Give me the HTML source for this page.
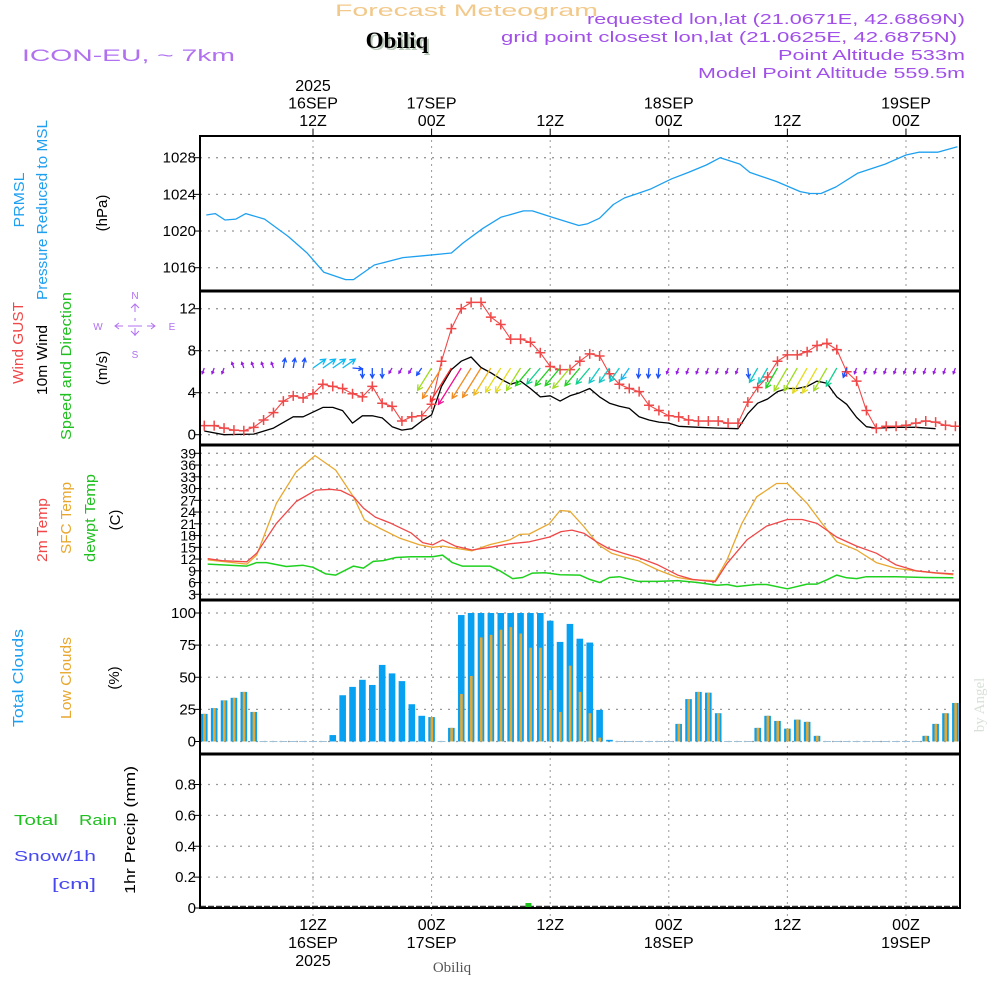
<!DOCTYPE html>
<html><head><meta charset="utf-8"><style>
html,body{margin:0;padding:0;background:#fff;}
svg{display:block;font-family:"Liberation Sans",sans-serif;}
</style></head><body>
<svg id="chart" width="1000" height="1000" viewBox="0 0 1000 1000" xmlns="http://www.w3.org/2000/svg">
<rect width="1000" height="1000" fill="#fff"/>
<text x="335" y="16" font-size="17" fill="#f2c98a" textLength="263" lengthAdjust="spacingAndGlyphs">Forecast Meteogram</text>
<text x="399" y="50" font-size="23" font-weight="bold" font-family="Liberation Serif,serif" fill="#b8c8b8" text-anchor="middle">Obiliq</text>
<text x="397" y="48" font-size="23" font-weight="bold" font-family="Liberation Serif,serif" fill="#000" text-anchor="middle">Obiliq</text>
<text x="22" y="61" font-size="17" fill="#b070f0" textLength="213" lengthAdjust="spacingAndGlyphs">ICON-EU, ~ 7km</text>
<g font-size="15" fill="#a050e8">
<text x="587" y="24" textLength="378" lengthAdjust="spacingAndGlyphs">requested lon,lat (21.0671E, 42.6869N)</text>
<text x="501" y="42" textLength="456" lengthAdjust="spacingAndGlyphs">grid point closest lon,lat (21.0625E, 42.6875N)</text>
<text x="778" y="60" textLength="187" lengthAdjust="spacingAndGlyphs">Point Altitude 533m</text>
<text x="698" y="78" textLength="267" lengthAdjust="spacingAndGlyphs">Model Point Altitude 559.5m</text>
</g>
<g id="grid"></g>
<g id="marks"></g>
<g id="frames"></g>
<g id="labels" font-size="15"></g>
<text transform="translate(984,705) rotate(-90)" font-size="15" font-family="Liberation Serif,serif" fill="#d8e0d8" text-anchor="middle">by Angel</text>
<text x="452" y="972" font-size="15" font-family="Liberation Serif,serif" fill="#555" text-anchor="middle">Obiliq</text>
</svg>
<script>
// ===== data (t = hours since 00Z 16SEP) =====
const timeTickHours=[12,24,36,48,60,72];
const topTickLabels=[["2025","16SEP","12Z"],["17SEP","00Z"],["12Z"],["18SEP","00Z"],["12Z"],["19SEP","00Z"]];
const bottomTickLabels=[["12Z","16SEP","2025"],["00Z","17SEP"],["12Z"],["00Z","18SEP"],["12Z"],["00Z","19SEP"]];
const presT=[1.2,2.1,3.1,4.2,5.2,7.1,9.5,11.4,13.1,15.3,16.1,18.2,21.1,23.1,26,27.2,29.2,31,33.3,34.2,36.2,38.9,39.8,41,42.4,43.5,46.1,48.3,50,51.8,53.2,55.2,56.2,58.9,61.3,62.3,63.4,64.9,67.1,69.9,72,73.3,75.2,77.2];
const presV=[1021.75,1021.9,1021.2,1021.3,1021.9,1021.3,1019.4,1017.6,1015.5,1014.7,1014.7,1016.3,1017.1,1017.3,1017.6,1018.7,1020.3,1021.5,1022.2,1022.2,1021.5,1020.6,1020.8,1021.4,1022.9,1023.6,1024.55,1025.7,1026.4,1027.2,1028,1027.3,1026.4,1025.4,1024.3,1024.1,1024.1,1024.8,1026.3,1027.3,1028.3,1028.6,1028.6,1029.2];
const presTicks=[1016,1020,1024,1028];
const gustV=[0.86,0.86,0.63,0.44,0.38,0.7,1.4,2.1,3.2,3.7,3.5,3.9,4.8,4.6,4.4,3.9,3.6,4.6,3.0,2.7,1.3,1.7,1.8,2.9,7.0,10.1,12.0,12.6,12.6,11.2,10.5,9.1,9.1,8.8,7.8,6.5,6.2,6.2,7.0,7.7,7.5,5.8,4.8,4.4,4.1,2.8,2.3,1.8,1.7,1.4,1.3,1.3,1.3,1.1,1.1,3.1,4.5,5.5,7.0,7.6,7.6,7.9,8.5,8.7,8.1,6.0,5.1,2.3,0.6,0.8,0.8,0.9,1.1,1.3,1.2,0.9,0.8];
const windT=[1,3,6,8,10,11,13,14,15,16,17,18,19,20,21,22,23,24,25,26,27,28,29,30,31,32,33,34,35,36,37,38,39,40,41,42,43,44,45,46,47,48,49,51,53,55,56,57,58,59,60,61,62,63,64,65,66,67,68,69,71,73,75];
const windV=[0.35,0,0.06,0.63,1.7,1.7,2.6,2.6,2.3,1.1,1.8,1.8,1.6,0.76,0.44,0.57,1.3,1.9,4.6,6.2,7.0,7.4,6.4,5.9,5.3,4.8,5.1,4.4,3.6,3.7,3.2,3.7,4.0,4.4,3.6,3.0,2.7,2.5,1.7,1.4,1.2,1.1,0.8,0.7,0.63,0.57,2.0,3.0,3.4,4.1,4.4,4.4,4.6,5.1,4.9,3.6,2.9,1.65,0.76,0.63,0.7,0.7,0.57];
const barbSpd=[0.8,0.8,0.8,0.8,0.8,0.8,0.8,0.8,1.8,1.8,1.8,2.8,2.8,2.8,2.8,1.8,1.8,1.8,1.8,0.8,0.8,0.8,1.6,4.8,6.5,7.2,7.8,6.5,6.3,5.8,5.2,5.2,4.8,4.2,3.8,4.2,4.2,4.8,4.2,3.8,3.3,3.2,3.0,2.6,1.8,1.8,1.8,0.8,0.8,0.8,0.8,0.8,0.8,0.8,0.8,1.8,3.0,3.2,4.2,4.8,4.8,5.2,5.2,4.8,3.8,1.8,0.8,0.8,0.8,0.8,0.8,0.8,0.8,0.8,0.8,0.8,0.8];
const barbDir=[200,200,200,340,340,340,340,340,10,10,10,55,55,55,55,95,180,180,180,210,210,210,215,212,212,212,212,212,212,212,212,212,212,220,220,220,220,220,220,220,215,215,215,215,185,185,185,200,200,200,200,200,200,200,200,175,210,210,210,210,210,210,210,210,210,200,200,200,200,200,200,200,200,200,200,200,200];
const windTicks=[0,4,8,12];
const t2mT=[1.35,2.8,5.3,6.3,8.3,10.3,12.3,13.8,14.8,16.1,17.1,18.3,19.9,21.9,23.1,24.1,25.1,26.4,28.1,29.9,31.9,33.9,35.9,37.1,38.2,39.4,40.7,41.9,43.4,44.9,46.9,48.9,50.4,52.7,53.9,55.9,57.9,60,61.5,63,65,67,69,71,73,75,76.8];
const t2mV=[12.1,11.6,11.3,13.5,21.1,26.7,29.6,29.8,29.5,27.9,25,22.7,21.1,18.7,16.2,15.6,16.9,15.3,14.3,15.0,15.9,16.4,17.6,19.0,19.4,18.6,16.4,14.7,13.5,12.4,10.5,7.9,6.8,6.2,10.9,16.9,20.4,22.1,22.1,21.1,17.6,15.3,13.5,10.5,9.0,8.5,8.2];
const sfcT=[1.35,5.3,6.3,8.3,10.3,12.2,14.3,16.1,17.2,18.8,20.8,22.8,24.1,25.1,28.1,29.9,31.9,32.9,33.9,35.9,37.0,38,39.4,40.9,42.2,43.4,44.9,46.9,48.9,50.4,52.7,53.9,55.4,56.9,58.9,60,62,63.5,65,67,69,71,73,75,76.8];
const sfcV=[11.8,10.7,13,26.2,34.3,38.4,34.7,27.9,22,19.8,17.3,15.6,15,15.3,14.1,15.7,16.9,18.3,18.4,21,24.4,24.2,20.3,15.6,13.5,12.6,11.6,9.2,7.3,6.7,6.5,11.8,21.1,27.9,31.3,31.3,26.2,21.1,16.4,14.3,11.1,9.6,9.0,8.4,8.0];
const dewT=[1.35,5.3,6.3,7.3,9.3,11,12,13.3,14.3,16.1,17.1,18.1,19.1,20.4,21.9,24.1,25.1,26.1,27.1,29.9,30.9,32.2,33.2,34.2,35.5,37,39,40,41,42,43,44.9,46.9,48.9,50.9,52.9,53.9,54.9,56.9,57.9,60,62,63,64,65,66,67,68,71,74,76.8];
const dewV=[10.7,10.2,11.1,11.1,10.1,10.4,9.9,8.2,7.9,10.2,9.7,11.4,11.6,12.4,12.6,12.6,13,11.1,10.2,10.2,9.0,7.0,7.3,8.4,8.5,8.0,7.9,6.8,6.0,7.3,7.5,6.3,6.3,6.5,6.0,5.3,5.5,5.0,5.5,5.5,4.4,5.6,5.6,6.7,7.9,7.2,7.0,7.5,7.5,7.3,7.2];
const tempTicks=[3,6,9,12,15,18,21,24,27,30,33,36,39];
const totalCloud=[21.5,26,32,34,38.6,23,0,0,0,0,0,0,0,5,36,42.5,48,44,59.6,53,47,29,20,19,0,10.6,98.4,100,100,100,100,100,100,100,100,94,77.5,91.5,80,77,24.6,1.3,0,0,0,0,0,0,13.7,33,38.6,38,22,0,0,0,10.6,20,16,10,17,15.3,4.4,0,0,0,0,0,0,0,0,0,0,4.4,13.7,22,30];
const lowCloud=[21.5,26,32,34,38.6,23,0,0,0,0,0,0,0,0,0,0,0,0,0,0,0,0,0,19,0,10.6,37,51,81,83,87,89,84,73,73,40,23,59,38.6,22,3,0,0,0,0,0,0,0,13.7,33,38.6,38,22,0,0,0,10.6,20,16,10,17,15.3,4.4,0,0,0,0,0,0,0,0,0,0,4.4,13.7,22,30];
const cloudTicks=[0,25,50,75,100];
const rainT=[33.8];
const rainV=[0.02];
const precipTicks=[0,0.2,0.4,0.6,0.8];

// ===== scales =====
const X0=200,X1=960;
const xS=t=>194.4+t*9.883;
const lin=(d0,d1,r0,r1)=>v=>r0+(v-d0)*(r1-r0)/(d1-d0);
const yP=lin(1016,1028,267.7,157.7);
const yW=lin(0,12,434.7,308.7);
const yT=lin(3,39,594.3,453.3);
const yC=lin(0,100,741.5,613);
const yR=lin(0,0.8,908,784.5);
const panels=[[136,291],[291,445],[445,600],[600,754],[754,908]];
const NS="http://www.w3.org/2000/svg";
function el(tag,attrs,parent,txt){const e=document.createElementNS(NS,tag);for(const k in attrs)e.setAttribute(k,attrs[k]);if(txt!==undefined)e.textContent=txt;parent.appendChild(e);return e;}
const G=document.getElementById('grid'),M=document.getElementById('marks'),F=document.getElementById('frames'),L=document.getElementById('labels');

timeTickHours.forEach((h,i)=>{const x=xS(h);
 const g=el('line',{x1:x,x2:x,y1:128,y2:916,stroke:'#999','stroke-dasharray':'2,4','stroke-width':1},G);
 
 
 const n=topTickLabels[i].length;
 topTickLabels[i].forEach((s,j)=>{const tx=el('text',{x:x,y:126-(n-1-j)*17.5,'text-anchor':'middle','font-size':16},L,s);
  
  });
 bottomTickLabels[i].forEach((s,j)=>{const tx=el('text',{x:x,y:930+j*18,'text-anchor':'middle','font-size':16},L,s);
  
  });
});
function yTicks(ticks,ys,fmt,fs){ticks.forEach(v=>{const y=ys(v);
 const g=el('line',{x1:X0,x2:X1,y1:y,y2:y,stroke:'#999','stroke-dasharray':'2,6','stroke-width':1.3},G);
 
 
 el('line',{x1:X0-6,x2:X0,y1:y,y2:y,stroke:'#000'},F);
 const tx=el('text',{x:X0-4,y:y+5,'text-anchor':'end','font-size':fs||15},L,fmt?fmt(v):String(v));
 
 });}
yTicks(presTicks,yP);
yTicks(windTicks,yW);
yTicks(tempTicks,yT,null,14);
yTicks(cloudTicks,yC);
yTicks(precipTicks,yR,v=>v===0?'0':v.toFixed(1));

function line(ts,vs,ys,color,name,w){const d=ts.map((t,i)=>(i?'L':'M')+xS(t).toFixed(1)+','+ys(vs[i]).toFixed(1)).join('');
 const p=el('path',{d:d,fill:'none',stroke:color,'stroke-width':w||1.3,'stroke-linejoin':'round'},M);
 
 }
line(presT,presV,yP,'#1ea0f0','pressure-line');
line(windT,windV,yW,'#000','wind-speed-line');
const gustT=gustV.map((v,i)=>i+1);
line(gustT,gustV,yW,'#f04848','wind-gust-line',1.1);
gustV.forEach((v,i)=>{const x=xS(i+1),y=yW(v);
 const c=el('path',{d:`M${x-5},${y}h10M${x},${y-5}v10`,stroke:'#f04848','stroke-width':1.5},M);
 
 });
function barbColor(s){if(s<1)return '#9a1ee6';if(s<2)return '#1a50ff';if(s<3)return '#10b8f0';if(s<3.5)return '#10c8c8';if(s<4)return '#10d090';if(s<4.5)return '#20d020';if(s<5)return '#a0dc20';if(s<5.5)return '#e6dc20';if(s<6)return '#f0b820';if(s<7)return '#f08c20';if(s<7.5)return '#f03030';return '#f01090';}
barbSpd.forEach((s,i)=>{const x=xS(i+1),y=368;const len=Math.max(6,s*5.5);const a=barbDir[i]*Math.PI/180;
 const dx=Math.sin(a)*len,dy=-Math.cos(a)*len;const tx=x+dx,ty=y+dy;
 const h=Math.min(6,len*0.45),ang=Math.atan2(dy,dx);
 const p1=[tx-h*Math.cos(ang-0.5),ty-h*Math.sin(ang-0.5)],p2=[tx-h*Math.cos(ang+0.5),ty-h*Math.sin(ang+0.5)];
 const c=barbColor(s);
 const p=el('path',{d:`M${x},${y}L${tx},${ty}M${p1[0]},${p1[1]}L${tx},${ty}L${p2[0]},${p2[1]}`,stroke:c,fill:'none','stroke-width':1.3},M);
 
 });
line(sfcT,sfcV,yT,'#e8a830','sfc-temp-line');
line(t2mT,t2mV,yT,'#f04848','temp-2m-line');
line(dewT,dewV,yT,'#20d020','dewpoint-line',1.5);
totalCloud.forEach((v,i)=>{const x=xS(i+1);
 if(v>0){const r=el('rect',{x:Math.max(X0,x-3.3),y:yC(v),width:Math.min(6.6,x+3.3-X0),height:yC(0)-yC(v),fill:'#08a0f0'},M);
 
 }
 else{const r=el('line',{x1:x-4,x2:x+4,y1:yC(0),y2:yC(0),stroke:'#a0c0d8','stroke-width':1},M);
 
 }
 const lv=lowCloud[i];
 if(lv>0){const r=el('rect',{x:x-1.1,y:yC(lv),width:2.6,height:yC(0)-yC(lv),fill:'#e8a830'},M);
 
 }});
const base=el('line',{x1:X0,x2:X1,y1:906.5,y2:906.5,stroke:'#333','stroke-width':1.5,'stroke-dasharray':'6,2'},M);


rainT.forEach((t,i)=>{const x=xS(t);const r=el('rect',{x:x-3,y:Math.min(yR(rainV[i]),903),width:6,height:908-Math.min(yR(rainV[i]),903),fill:'#20c020'},M);
 
 });
panels.forEach(([a,b])=>{const r=el('rect',{x:X0,y:a,width:X1-X0,height:b-a,fill:'none',stroke:'#000','stroke-width':2},F);
 
 });
[291,445,600,754].forEach(y=>el('line',{x1:X0,x2:X1,y1:y,y2:y,stroke:'#000','stroke-width':3},F));
timeTickHours.forEach(h=>{const x=xS(h);el('line',{x1:x,x2:x,y1:129,y2:136,stroke:'#000'},F);});

function vlab(x,y,txt,color,name,len,fs){const a={transform:`translate(${x},${y}) rotate(-90)`,'text-anchor':'middle',fill:color,'font-size':fs||15};
 if(len){a.textLength=len;a.lengthAdjust='spacingAndGlyphs';}
 const t=el('text',a,L,txt);
 
 }
vlab(24,200,'PRMSL','#1ea0f0','pressure-title',55);
vlab(47,210,'Pressure Reduced to MSL','#1ea0f0','pressure-subtitle',180);
vlab(107,213,'(hPa)','#000','pressure-unit');
vlab(23,343,'Wind GUST','#f04848','gust-title',82);
vlab(47,360,'10m Wind','#000','wind-title',70);
vlab(71,366,'Speed and Direction','#20c020','wind-subtitle',148);
vlab(107,368,'(m/s)','#000','wind-unit');
vlab(47,530,'2m Temp','#f04848','temp-2m-title',64);
vlab(71,518,'SFC Temp','#e8a830','sfc-temp-title',72);
vlab(95,518,'dewpt Temp','#20c020','dewpoint-title',88);
vlab(120,520,'(C)','#000','temp-unit');
vlab(23,678,'Total Clouds','#1ea0f0','total-cloud-title',98);
vlab(71,678,'Low Clouds','#e8a830','low-cloud-title',82);
vlab(119,678,'(%)','#000','cloud-unit');
vlab(135,830,'1hr Precip (mm)','#000','precip-title',128);
[['Total',14,825,'#20c020','rain-legend-total',44],['Rain',79,825,'#20c020','rain-legend-rain',38],['Snow/1h',14,861,'#4848f0','snow-legend',82],['[cm]',52,889,'#4848f0','snow-unit',44]].forEach(a=>{
 const t=el('text',{x:a[1],y:a[2],fill:a[3],'font-size':15,textLength:a[5],lengthAdjust:'spacingAndGlyphs'},L,a[0]);
 
 });
const cg=el('g',{fill:'#b070f0','font-size':10,'text-anchor':'middle'},L);


el('text',{x:135,y:299},cg,'N');el('text',{x:135,y:358},cg,'S');el('text',{x:98,y:330},cg,'W');el('text',{x:172,y:330},cg,'E');
el('path',{d:'M135,304v8M135,318v3M135,328v8M115,326h8M128,326h14M147,326h8M131,308l4,-4l4,4M131,331l4,4l4,-4M119,323l-4,3l4,3M151,323l4,3l-4,3',stroke:'#b070f0',fill:'none'},cg);
</script>
</body></html>
